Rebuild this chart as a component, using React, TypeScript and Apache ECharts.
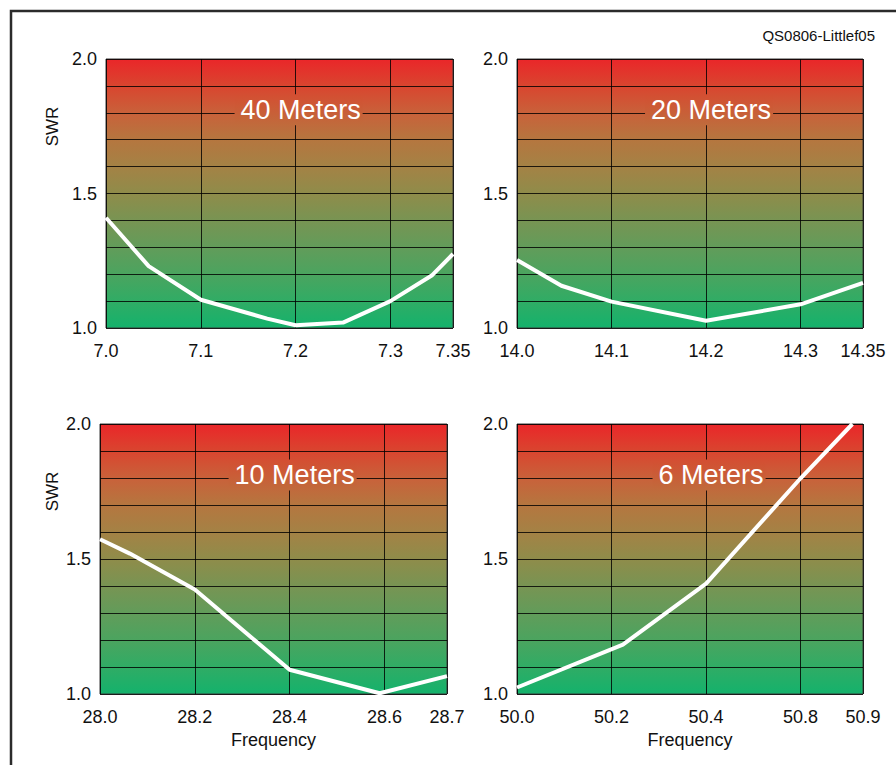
import React, { useEffect, useRef } from 'react';
import * as echarts from 'echarts';

// ---------- data ----------
const swrLabels = ['1.0', '1.5', '2.0'];
const swrLabelValues = [1.0, 1.5, 2.0];
// positions of the five frequency ticks on each panel's (non-linear) axis
const tickPositions = [0, 1, 2, 3, 3.66];

const band40Ticks = [7.0, 7.1, 7.2, 7.3, 7.35];
const band40TickLabels = ['7.0', '7.1', '7.2', '7.3', '7.35'];
const band40Freq = [7.0, 7.045, 7.1, 7.17, 7.2, 7.25, 7.3, 7.333, 7.35];
const band40Swr = [1.41, 1.23, 1.105, 1.035, 1.01, 1.02, 1.1, 1.195, 1.275];

const band20Ticks = [14.0, 14.1, 14.2, 14.3, 14.35];
const band20TickLabels = ['14.0', '14.1', '14.2', '14.3', '14.35'];
const band20Freq = [14.0, 14.047, 14.1, 14.2, 14.3, 14.35];
const band20Swr = [1.253, 1.157, 1.098, 1.027, 1.088, 1.168];

const band10Ticks = [28.0, 28.2, 28.4, 28.6, 28.7];
const band10TickLabels = ['28.0', '28.2', '28.4', '28.6', '28.7'];
const band10Freq = [28.0, 28.063, 28.2, 28.4, 28.59, 28.7];
const band10Swr = [1.573, 1.52, 1.387, 1.09, 1.003, 1.066];

const band6Ticks = [50.0, 50.2, 50.4, 50.8, 50.9];
const band6TickLabels = ['50.0', '50.2', '50.4', '50.8', '50.9'];
const band6Freq = [50.0, 50.224, 50.4, 50.8, 50.883];
const band6Swr = [1.024, 1.183, 1.409, 1.799, 2.0];

const bandTitles = ['40 Meters', '20 Meters', '10 Meters', '6 Meters'];
const credit = 'QS0806-Littlef05';

// ---------- styling ----------
const FONT = '"Liberation Sans", Arial, Helvetica, sans-serif';
const gradStops: [number, string][] = [
  [0, '#EA2629'],
  [0.1, '#D9452F'],
  [0.2, '#C9613A'],
  [0.3, '#B5763F'],
  [0.4, '#A48245'],
  [0.5, '#8F8C4A'],
  [0.6, '#789453'],
  [0.7, '#629C5A'],
  [0.8, '#4BA45F'],
  [0.9, '#30AC65'],
  [1, '#14B26C'],
];

function hexToRgb(h: string) {
  const n = parseInt(h.slice(1), 16);
  return [(n >> 16) & 255, (n >> 8) & 255, n & 255];
}
function colorAt(t: number) {
  for (let i = 0; i < gradStops.length - 1; i++) {
    const [a, ca] = gradStops[i];
    const [b, cb] = gradStops[i + 1];
    if (t >= a && t <= b) {
      const f = (t - a) / (b - a);
      const A = hexToRgb(ca);
      const B = hexToRgb(cb);
      const c = A.map((v, k) => Math.round(v + (B[k] - v) * f));
      return `rgb(${c[0]},${c[1]},${c[2]})`;
    }
  }
  return gradStops[gradStops.length - 1][1];
}
function linear(stops: [number, string][]) {
  return {
    type: 'linear',
    x: 0,
    y: 0,
    x2: 0,
    y2: 1,
    colorStops: stops.map(([offset, color]) => ({ offset, color })),
  };
}

function toAxis(f: number, ticks: number[]) {
  for (let i = 0; i < ticks.length - 1; i++) {
    if (f <= ticks[i + 1] + 1e-9) {
      const r = (f - ticks[i]) / (ticks[i + 1] - ticks[i]);
      return tickPositions[i] + r * (tickPositions[i + 1] - tickPositions[i]);
    }
  }
  return tickPositions[tickPositions.length - 1];
}

const panels = [
  { left: 106, top: 59, width: 347, height: 269, ticks: band40Ticks, labels: band40TickLabels, freq: band40Freq, swr: band40Swr, swrName: true, freqName: false },
  { left: 517, top: 59, width: 346, height: 269, ticks: band20Ticks, labels: band20TickLabels, freq: band20Freq, swr: band20Swr, swrName: false, freqName: false },
  { left: 100, top: 424, width: 347, height: 270, ticks: band10Ticks, labels: band10TickLabels, freq: band10Freq, swr: band10Swr, swrName: true, freqName: true },
  { left: 517, top: 424, width: 346, height: 270, ticks: band6Ticks, labels: band6TickLabels, freq: band6Freq, swr: band6Swr, swrName: false, freqName: true },
];

export default function App() {
  const ref = useRef<HTMLDivElement>(null);
  useEffect(() => {
    if (!ref.current) return;
    const chart = echarts.init(ref.current, null, { renderer: 'svg' });
    const maxPos = tickPositions[tickPositions.length - 1];

    const grid = panels.map((p) => ({
      left: p.left,
      top: p.top,
      width: p.width,
      height: p.height,
      show: true,
      backgroundColor: linear(gradStops),
      borderColor: '#3a3a3a',
      borderWidth: 1,
    }));

    const xAxis = panels.map((p, i) => ({
      type: 'value',
      gridIndex: i,
      min: 0,
      max: maxPos,
      interval: 1,
      name: p.freqName ? 'Frequency' : '',
      nameLocation: 'middle',
      nameGap: 37,
      nameTextStyle: { fontFamily: FONT, fontSize: 18, color: '#111' },
      axisLine: { show: false },
      axisTick: { show: false },
      splitLine: { show: true, lineStyle: { color: 'rgba(0,0,0,0.82)', width: 1 } },
      axisLabel: {
        margin: 14,
        fontFamily: FONT,
        fontSize: 18,
        color: '#111',
        showMaxLabel: true,
        showMinLabel: true,
        formatter: (v: number) => {
          const idx = tickPositions.findIndex((t) => Math.abs(t - v) < 1e-6);
          return idx >= 0 ? p.labels[idx] : '';
        },
      },
    }));

    const yAxis = panels.map((p, i) => ({
      type: 'value',
      gridIndex: i,
      min: 1,
      max: 2,
      interval: 0.1,
      axisLine: { show: false },
      axisTick: { show: false },
      splitLine: { show: true, lineStyle: { color: 'rgba(0,0,0,0.82)', width: 1 } },
      axisLabel: {
        margin: 9,
        fontFamily: FONT,
        fontSize: 18,
        color: '#111',
        formatter: (v: number) => {
          const idx = swrLabelValues.findIndex((t) => Math.abs(t - v) < 1e-6);
          return idx >= 0 ? swrLabels[idx] : '';
        },
      },
    }));

    const series = panels.map((p, i) => ({
      type: 'line',
      xAxisIndex: i,
      yAxisIndex: i,
      showSymbol: false,
      symbol: 'none',
      clip: true,
      z: 3,
      lineStyle: { color: '#ffffff', width: 4, join: 'round' },
      data: p.freq.map((f, k) => [toAxis(f, p.ticks), p.swr[k]]),
    }));

    const graphic: any[] = [
      {
        type: 'rect',
        shape: { x: 11, y: 11, width: 900, height: 800 },
        style: { fill: 'none', stroke: '#2b2b2b', lineWidth: 2.5 },
        z: 20,
        silent: true,
      },
      {
        type: 'text',
        x: 875,
        y: 35,
        style: { text: credit, fontFamily: FONT, fontSize: 15, fill: '#111', align: 'right', verticalAlign: 'middle' },
      },
    ];

    panels.forEach((p, i) => {
      const unit = p.width / maxPos;
      const cx = p.left + 2 * unit + 3;
      const cy = p.top + 0.2 * p.height - 3;
      const boxTop = cy - 15.5;
      const boxBottom = cy + 15.5;
      const t0 = (boxTop - p.top) / p.height;
      const t1 = (boxBottom - p.top) / p.height;
      graphic.push({
        type: 'text',
        x: cx,
        y: cy,
        z: 10,
        style: {
          text: bandTitles[i],
          fontFamily: FONT,
          fontSize: 27,
          lineHeight: 27,
          fill: '#ffffff',
          align: 'center',
          verticalAlign: 'middle',
          padding: [2, 2, 2, 6],
          backgroundColor: linear([
            [0, colorAt(t0)],
            [1, colorAt(t1)],
          ]),
        },
      });
      if (p.swrName) {
        graphic.push({
          type: 'text',
          x: 52,
          y: p.top + 67.5,
          rotation: Math.PI / 2,
          style: { text: 'SWR', fontFamily: FONT, fontSize: 17, fill: '#111', align: 'center', verticalAlign: 'middle' },
        });
      }
    });

    chart.setOption({
      animation: false,
      backgroundColor: '#ffffff',
      grid,
      xAxis,
      yAxis,
      series,
      graphic,
    });
    return () => chart.dispose();
  }, []);

  return (
    <div
      ref={ref}
      style={{ position: 'absolute', left: 0, top: 0, width: 896, height: 765 }}
    />
  );
}
